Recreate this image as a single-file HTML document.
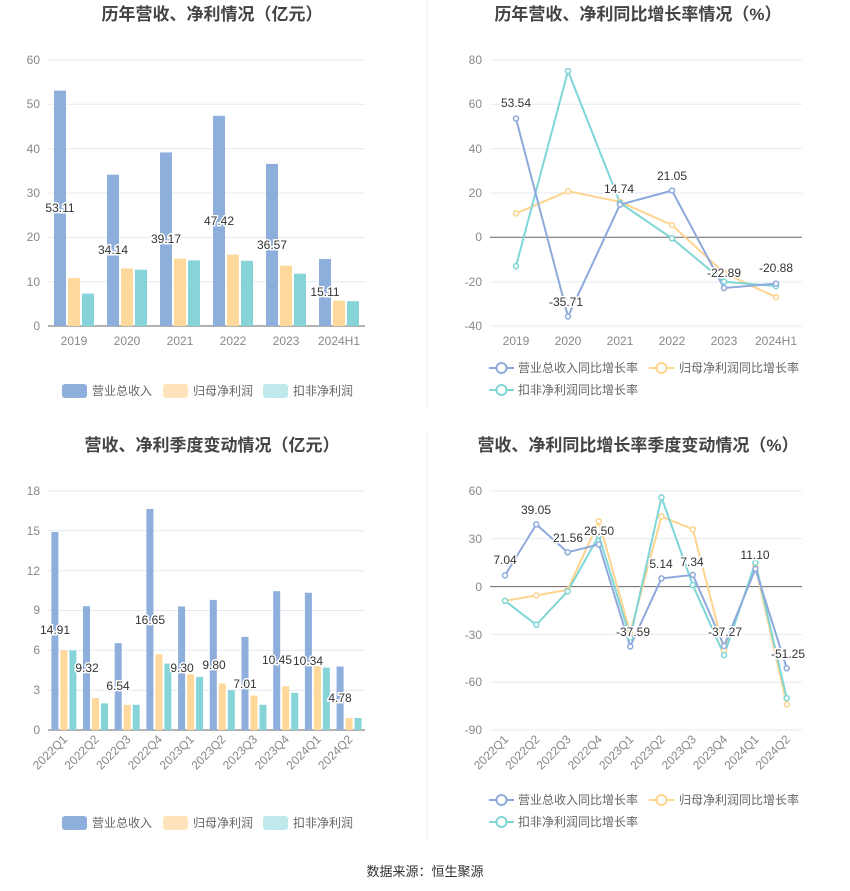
<!DOCTYPE html>
<html><head><meta charset="utf-8"><style>
body{margin:0;background:#fff;}
svg{display:block;font-family:"Liberation Sans","Noto Sans CJK SC",sans-serif;}
.t{font-size:17px;font-weight:bold;fill:#444;text-anchor:middle}
.ax{font-size:12px;fill:#888}
.g{stroke:#e3e8f3;stroke-width:1}
.lb{font-size:12px;fill:#333;text-anchor:middle;stroke:#fff;stroke-width:3;paint-order:stroke}
.lg{font-size:12px;fill:#666}
.b{fill:#8eaedb}.o{fill:#ffd89b}.c{fill:#86d4d8}
.lb1{fill:none;stroke:#8ea9dc;stroke-width:2}.lo{fill:none;stroke:#fed48f;stroke-width:2}.lc{fill:none;stroke:#7fd6d6;stroke-width:2}
</style></head><body>
<svg width="850" height="891" viewBox="0 0 850 891">
<line x1="427" y1="0" x2="427" y2="408" stroke="#eee"/>
<line x1="427" y1="432" x2="427" y2="840" stroke="#eee"/>

<!-- Chart 1 -->
<text class="t" x="212" y="20">历年营收、净利情况（亿元）</text>
<g class="g"><line x1="48" x2="365" y1="60" y2="60"/><line x1="48" x2="365" y1="104.3" y2="104.3"/><line x1="48" x2="365" y1="148.7" y2="148.7"/><line x1="48" x2="365" y1="193" y2="193"/><line x1="48" x2="365" y1="237.4" y2="237.4"/><line x1="48" x2="365" y1="281.7" y2="281.7"/></g>
<line x1="48" x2="365" y1="326" y2="326" stroke="#666"/>
<g class="ax" text-anchor="end"><text x="40" y="64">60</text><text x="40" y="108">50</text><text x="40" y="153">40</text><text x="40" y="197">30</text><text x="40" y="241">20</text><text x="40" y="286">10</text><text x="40" y="330">0</text></g>
<g class="ax" text-anchor="middle"><text x="74" y="345">2019</text><text x="127" y="345">2020</text><text x="180" y="345">2021</text><text x="233" y="345">2022</text><text x="286" y="345">2023</text><text x="339" y="345">2024H1</text></g>
<g class="b"><rect x="54" y="90.6" width="12" height="235.4"/><rect x="107" y="174.7" width="12" height="151.3"/><rect x="160" y="152.4" width="12" height="173.6"/><rect x="213" y="115.8" width="12" height="210.2"/><rect x="266" y="163.9" width="12" height="162.1"/><rect x="319" y="259" width="12" height="67"/></g>
<g class="o"><rect x="68" y="278.1" width="12" height="47.9"/><rect x="121" y="268.4" width="12" height="57.6"/><rect x="174" y="258.6" width="12" height="67.4"/><rect x="227" y="254.6" width="12" height="71.4"/><rect x="280" y="265.7" width="12" height="60.3"/><rect x="333" y="300.7" width="12" height="25.3"/></g>
<g class="c"><rect x="82" y="293.6" width="12" height="32.4"/><rect x="135" y="269.7" width="12" height="56.3"/><rect x="188" y="260.4" width="12" height="65.6"/><rect x="241" y="260.8" width="12" height="65.2"/><rect x="294" y="273.7" width="12" height="52.3"/><rect x="347" y="301.2" width="12" height="24.8"/></g>
<g class="lb"><text x="60" y="212">53.11</text><text x="113" y="254">34.14</text><text x="166" y="243">39.17</text><text x="219" y="225">47.42</text><text x="272" y="249">36.57</text><text x="325" y="296">15.11</text></g>
<rect x="62" y="384" width="25" height="14" rx="3" class="b"/><text class="lg" x="92" y="395">营业总收入</text>
<rect x="163" y="384" width="25" height="14" rx="3" fill="#ffe4bb"/><text class="lg" x="193" y="395">归母净利润</text>
<rect x="263" y="384" width="25" height="14" rx="3" fill="#bfe9ea"/><text class="lg" x="293" y="395">扣非净利润</text>

<!-- Chart 2 -->
<text class="t" x="638" y="20">历年营收、净利同比增长率情况（%）</text>
<g class="g"><line x1="490" x2="802" y1="60" y2="60"/><line x1="490" x2="802" y1="104.3" y2="104.3"/><line x1="490" x2="802" y1="148.7" y2="148.7"/><line x1="490" x2="802" y1="193" y2="193"/><line x1="490" x2="802" y1="282" y2="282"/><line x1="490" x2="802" y1="326" y2="326"/></g>
<line x1="490" x2="802" y1="237.3" y2="237.3" stroke="#666"/>
<g class="ax" text-anchor="end"><text x="482" y="64">80</text><text x="482" y="108">60</text><text x="482" y="153">40</text><text x="482" y="197">20</text><text x="482" y="241">0</text><text x="482" y="286">-20</text><text x="482" y="330">-40</text></g>
<g class="ax" text-anchor="middle"><text x="516" y="345">2019</text><text x="568" y="345">2020</text><text x="620" y="345">2021</text><text x="672" y="345">2022</text><text x="724" y="345">2023</text><text x="776" y="345">2024H1</text></g>
<polyline class="lo" points="516,213.4 568,191.2 620,201.8 672,225.1 724,272.8 776,297.2"/>
<polyline class="lc" points="516,266.1 568,71 620,202.9 672,238.4 724,281.6 776,286.1"/>
<polyline class="lb1" points="516,118.6 568,316.5 620,204.6 672,190.6 724,288 776,283.6"/>
<g fill="#fff" stroke-width="1.5">
<g stroke="#fed48f"><circle cx="516" cy="213.4" r="2.5"/><circle cx="568" cy="191.2" r="2.5"/><circle cx="620" cy="201.8" r="2.5"/><circle cx="672" cy="225.1" r="2.5"/><circle cx="724" cy="272.8" r="2.5"/><circle cx="776" cy="297.2" r="2.5"/></g>
<g stroke="#7fd6d6"><circle cx="516" cy="266.1" r="2.5"/><circle cx="568" cy="71" r="2.5"/><circle cx="620" cy="202.9" r="2.5"/><circle cx="672" cy="238.4" r="2.5"/><circle cx="724" cy="281.6" r="2.5"/><circle cx="776" cy="286.1" r="2.5"/></g>
<g stroke="#8ea9dc"><circle cx="516" cy="118.6" r="2.5"/><circle cx="568" cy="316.5" r="2.5"/><circle cx="620" cy="204.6" r="2.5"/><circle cx="672" cy="190.6" r="2.5"/><circle cx="724" cy="288" r="2.5"/><circle cx="776" cy="283.6" r="2.5"/></g>
</g>
<g class="lb"><text x="516" y="107">53.54</text><text x="566" y="306">-35.71</text><text x="619" y="193">14.74</text><text x="672" y="180">21.05</text><text x="724" y="277">-22.89</text><text x="776" y="272">-20.88</text></g>
<g stroke-width="2" fill="#fff">
<line x1="489" x2="514" y1="368" y2="368" stroke="#8ea9dc"/><circle cx="501.5" cy="368" r="5" stroke="#8ea9dc"/>
<line x1="649" x2="674" y1="368" y2="368" stroke="#fed48f"/><circle cx="661.5" cy="368" r="5" stroke="#fed48f"/>
<line x1="489" x2="514" y1="390" y2="390" stroke="#7fd6d6"/><circle cx="501.5" cy="390" r="5" stroke="#7fd6d6"/>
</g>
<text class="lg" x="518" y="372">营业总收入同比增长率</text><text class="lg" x="679" y="372">归母净利润同比增长率</text><text class="lg" x="518" y="394">扣非净利润同比增长率</text>

<!-- Chart 3 -->
<text class="t" x="212" y="451">营收、净利季度变动情况（亿元）</text>
<g class="g"><line x1="48" x2="365" y1="491" y2="491"/><line x1="48" x2="365" y1="530.8" y2="530.8"/><line x1="48" x2="365" y1="570.7" y2="570.7"/><line x1="48" x2="365" y1="610.5" y2="610.5"/><line x1="48" x2="365" y1="650.3" y2="650.3"/><line x1="48" x2="365" y1="690.2" y2="690.2"/></g>
<line x1="48" x2="365" y1="730" y2="730" stroke="#666"/>
<g class="ax" text-anchor="end"><text x="40" y="495">18</text><text x="40" y="535">15</text><text x="40" y="575">12</text><text x="40" y="614">9</text><text x="40" y="654">6</text><text x="40" y="694">3</text><text x="40" y="734">0</text></g>
<g class="ax" text-anchor="end">
<text transform="translate(68,740) rotate(-45)">2022Q1</text><text transform="translate(99.6,740) rotate(-45)">2022Q2</text><text transform="translate(131.3,740) rotate(-45)">2022Q3</text><text transform="translate(163,740) rotate(-45)">2022Q4</text><text transform="translate(194.7,740) rotate(-45)">2023Q1</text><text transform="translate(226.4,740) rotate(-45)">2023Q2</text><text transform="translate(258,740) rotate(-45)">2023Q3</text><text transform="translate(289.8,740) rotate(-45)">2023Q4</text><text transform="translate(321.5,740) rotate(-45)">2024Q1</text><text transform="translate(353.2,740) rotate(-45)">2024Q2</text></g>
<g class="b"><rect x="51.4" y="532" width="7" height="198"/><rect x="83" y="606.2" width="7" height="123.8"/><rect x="114.7" y="643.1" width="7" height="86.9"/><rect x="146.4" y="508.9" width="7" height="221.1"/><rect x="178.1" y="606.5" width="7" height="123.5"/><rect x="209.8" y="599.9" width="7" height="130.1"/><rect x="241.5" y="636.9" width="7" height="93.1"/><rect x="273.2" y="591.2" width="7" height="138.8"/><rect x="304.9" y="592.7" width="7" height="137.3"/><rect x="336.6" y="666.5" width="7" height="63.5"/></g>
<g class="o"><rect x="60.4" y="650.3" width="7" height="79.7"/><rect x="92" y="698.1" width="7" height="31.9"/><rect x="123.7" y="704.8" width="7" height="25.2"/><rect x="155.4" y="654.3" width="7" height="75.7"/><rect x="187.1" y="674.2" width="7" height="55.8"/><rect x="218.8" y="683.5" width="7" height="46.5"/><rect x="250.5" y="695.5" width="7" height="34.5"/><rect x="282.2" y="686.2" width="7" height="43.8"/><rect x="313.9" y="666.3" width="7" height="63.7"/><rect x="345.6" y="718" width="7" height="12"/></g>
<g class="c"><rect x="69.4" y="650.3" width="7" height="79.7"/><rect x="101" y="703.4" width="7" height="26.6"/><rect x="132.7" y="704.8" width="7" height="25.2"/><rect x="164.4" y="663.6" width="7" height="66.4"/><rect x="196.1" y="676.9" width="7" height="53.1"/><rect x="227.8" y="690.2" width="7" height="39.8"/><rect x="259.5" y="704.8" width="7" height="25.2"/><rect x="291.2" y="692.8" width="7" height="37.2"/><rect x="322.9" y="667.6" width="7" height="62.4"/><rect x="354.6" y="718" width="7" height="12"/></g>
<g class="lb"><text x="55" y="634">14.91</text><text x="87" y="672">9.32</text><text x="118" y="690">6.54</text><text x="150" y="624">16.65</text><text x="182" y="672">9.30</text><text x="214" y="669">9.80</text><text x="245" y="688">7.01</text><text x="277" y="664">10.45</text><text x="308" y="665">10.34</text><text x="340" y="702">4.78</text></g>
<rect x="62" y="816" width="25" height="14" rx="3" class="b"/><text class="lg" x="92" y="827">营业总收入</text>
<rect x="163" y="816" width="25" height="14" rx="3" fill="#ffe4bb"/><text class="lg" x="193" y="827">归母净利润</text>
<rect x="263" y="816" width="25" height="14" rx="3" fill="#bfe9ea"/><text class="lg" x="293" y="827">扣非净利润</text>

<!-- Chart 4 -->
<text class="t" x="638" y="451">营收、净利同比增长率季度变动情况（%）</text>
<g class="g"><line x1="490" x2="802" y1="491" y2="491"/><line x1="490" x2="802" y1="538.8" y2="538.8"/><line x1="490" x2="802" y1="634.4" y2="634.4"/><line x1="490" x2="802" y1="682.2" y2="682.2"/><line x1="490" x2="802" y1="730" y2="730"/></g>
<line x1="490" x2="802" y1="586.6" y2="586.6" stroke="#666"/>
<g class="ax" text-anchor="end"><text x="482" y="495">60</text><text x="482" y="543">30</text><text x="482" y="591">0</text><text x="482" y="639">-30</text><text x="482" y="686">-60</text><text x="482" y="734">-90</text></g>
<g class="ax" text-anchor="end">
<text transform="translate(509,740) rotate(-45)">2022Q1</text><text transform="translate(540.3,740) rotate(-45)">2022Q2</text><text transform="translate(571.6,740) rotate(-45)">2022Q3</text><text transform="translate(602.9,740) rotate(-45)">2022Q4</text><text transform="translate(634.2,740) rotate(-45)">2023Q1</text><text transform="translate(665.5,740) rotate(-45)">2023Q2</text><text transform="translate(696.8,740) rotate(-45)">2023Q3</text><text transform="translate(728.1,740) rotate(-45)">2023Q4</text><text transform="translate(759.4,740) rotate(-45)">2024Q1</text><text transform="translate(790.7,740) rotate(-45)">2024Q2</text></g>
<polyline class="lo" points="505,600.9 536.3,595.4 567.6,589.8 598.9,521.3 630.2,632.8 661.5,516.5 692.8,529.2 724.1,650.3 755.4,565.9 786.7,704.5"/>
<polyline class="lc" points="505,600.9 536.3,624.8 567.6,591.4 598.9,535.6 630.2,637.6 661.5,497.4 692.8,585 724.1,655.1 755.4,562.7 786.7,698.1"/>
<polyline class="lb1" points="505,575.4 536.3,524.4 567.6,552.3 598.9,544.4 630.2,646.5 661.5,578.4 692.8,574.9 724.1,646 755.4,568.9 786.7,668.2"/>
<g fill="#fff" stroke-width="1.5">
<g stroke="#fed48f"><circle cx="505" cy="600.9" r="2.5"/><circle cx="536.3" cy="595.4" r="2.5"/><circle cx="567.6" cy="589.8" r="2.5"/><circle cx="598.9" cy="521.3" r="2.5"/><circle cx="630.2" cy="632.8" r="2.5"/><circle cx="661.5" cy="516.5" r="2.5"/><circle cx="692.8" cy="529.2" r="2.5"/><circle cx="724.1" cy="650.3" r="2.5"/><circle cx="755.4" cy="565.9" r="2.5"/><circle cx="786.7" cy="704.5" r="2.5"/></g>
<g stroke="#7fd6d6"><circle cx="505" cy="600.9" r="2.5"/><circle cx="536.3" cy="624.8" r="2.5"/><circle cx="567.6" cy="591.4" r="2.5"/><circle cx="598.9" cy="535.6" r="2.5"/><circle cx="630.2" cy="637.6" r="2.5"/><circle cx="661.5" cy="497.4" r="2.5"/><circle cx="692.8" cy="585" r="2.5"/><circle cx="724.1" cy="655.1" r="2.5"/><circle cx="755.4" cy="562.7" r="2.5"/><circle cx="786.7" cy="698.1" r="2.5"/></g>
<g stroke="#8ea9dc"><circle cx="505" cy="575.4" r="2.5"/><circle cx="536.3" cy="524.4" r="2.5"/><circle cx="567.6" cy="552.3" r="2.5"/><circle cx="598.9" cy="544.4" r="2.5"/><circle cx="630.2" cy="646.5" r="2.5"/><circle cx="661.5" cy="578.4" r="2.5"/><circle cx="692.8" cy="574.9" r="2.5"/><circle cx="724.1" cy="646" r="2.5"/><circle cx="755.4" cy="568.9" r="2.5"/><circle cx="786.7" cy="668.2" r="2.5"/></g>
</g>
<g class="lb"><text x="505" y="564">7.04</text><text x="536" y="514">39.05</text><text x="568" y="542">21.56</text><text x="599" y="535">26.50</text><text x="633" y="636">-37.59</text><text x="661" y="568">5.14</text><text x="692" y="566">7.34</text><text x="725" y="636">-37.27</text><text x="755" y="559">11.10</text><text x="788" y="658">-51.25</text></g>
<g stroke-width="2" fill="#fff">
<line x1="489" x2="514" y1="800" y2="800" stroke="#8ea9dc"/><circle cx="501.5" cy="800" r="5" stroke="#8ea9dc"/>
<line x1="649" x2="674" y1="800" y2="800" stroke="#fed48f"/><circle cx="661.5" cy="800" r="5" stroke="#fed48f"/>
<line x1="489" x2="514" y1="822" y2="822" stroke="#7fd6d6"/><circle cx="501.5" cy="822" r="5" stroke="#7fd6d6"/>
</g>
<text class="lg" x="518" y="804">营业总收入同比增长率</text><text class="lg" x="679" y="804">归母净利润同比增长率</text><text class="lg" x="518" y="826">扣非净利润同比增长率</text>

<text x="425" y="876" text-anchor="middle" font-size="13" fill="#333">数据来源：恒生聚源</text>
</svg>
</body></html>
